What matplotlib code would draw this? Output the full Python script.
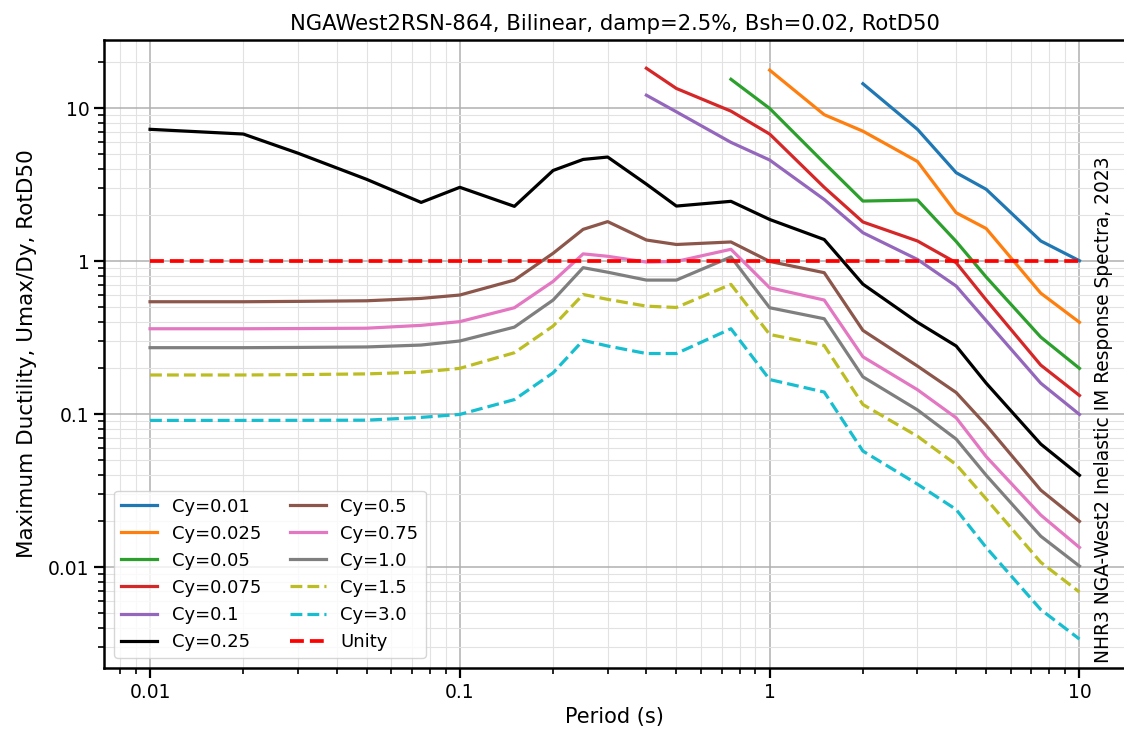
import matplotlib

matplotlib.use("Agg")
import matplotlib.pyplot as plt  # noqa: E402
import numpy as np  # noqa: E402

# Spectral periods (s)
periods = [0.01, 0.02, 0.03, 0.05, 0.075, 0.1, 0.15, 0.2, 0.25, 0.3, 0.4,
           0.5, 0.75, 1.0, 1.5, 2.0, 3.0, 4.0, 5.0, 7.5, 10.0]

# Maximum ductility per yield strength coefficient. The weakest systems
# only have values from the period where the solution became stable.
mu_001 = [14.5, 7.3, 3.8, 2.96, 1.36, 1.01]                        # T >= 2.0
mu_0025 = [17.8, 9.1, 7.1, 4.5, 2.08, 1.64, 0.62, 0.40]            # T >= 1.0
mu_005 = [15.5, 10.0, 4.4, 2.48, 2.52, 1.35, 0.79, 0.32, 0.20]     # T >= 0.75
mu_0075 = [18.3, 13.5, 9.6, 6.8, 3.05, 1.81, 1.36, 0.98, 0.56, 0.21, 0.133]  # T >= 0.4
mu_01 = [12.2, 9.5, 6.0, 4.6, 2.54, 1.54, 1.03, 0.69, 0.41, 0.16, 0.10]      # T >= 0.4
mu_025 = [7.3, 6.8, 5.1, 3.44, 2.43, 3.05, 2.29, 3.93, 4.64, 4.81, 3.2,
          2.30, 2.47, 1.88, 1.39, 0.71, 0.40, 0.28, 0.16, 0.064, 0.040]
mu_05 = [0.545, 0.545, 0.548, 0.553, 0.573, 0.603, 0.755, 1.13, 1.62, 1.82,
         1.38, 1.29, 1.34, 1.0, 0.844, 0.354, 0.207, 0.139, 0.085, 0.032, 0.020]
mu_075 = [0.363, 0.363, 0.364, 0.366, 0.382, 0.404, 0.498, 0.74, 1.12, 1.08,
          0.99, 1.0, 1.20, 0.673, 0.559, 0.238, 0.145, 0.095, 0.053, 0.022, 0.0135]
mu_10 = [0.273, 0.273, 0.274, 0.276, 0.284, 0.302, 0.372, 0.559, 0.91, 0.85,
         0.755, 0.755, 1.07, 0.498, 0.422, 0.176, 0.107, 0.069, 0.040, 0.016, 0.0102]
mu_15 = [0.181, 0.181, 0.182, 0.184, 0.189, 0.20, 0.253, 0.378, 0.608, 0.565,
         0.51, 0.50, 0.708, 0.333, 0.282, 0.116, 0.072, 0.047, 0.028, 0.0108, 0.0069]
mu_30 = [0.0914, 0.0914, 0.0915, 0.0917, 0.0956, 0.10, 0.125, 0.187, 0.305, 0.28,
         0.25, 0.25, 0.363, 0.169, 0.14, 0.0576, 0.035, 0.0239, 0.0135, 0.0053, 0.0034]

cy_labels = ["Cy=0.01", "Cy=0.025", "Cy=0.05", "Cy=0.075", "Cy=0.1", "Cy=0.25",
             "Cy=0.5", "Cy=0.75", "Cy=1.0", "Cy=1.5", "Cy=3.0"]
cy_values = [mu_001, mu_0025, mu_005, mu_0075, mu_01, mu_025,
             mu_05, mu_075, mu_10, mu_15, mu_30]
cy_colors = ["C0", "C1", "C2", "C3", "C4", "k", "C5", "C6", "C7", "C8", "C9"]
cy_styles = ["-"] * 9 + ["--", "--"]

plt.rcParams["font.family"] = "DejaVu Sans"

fig = plt.figure(figsize=(11.24, 7.42), dpi=100)
ax = fig.add_axes([0.0925, 0.0997, 0.909, 0.8464])

T = np.array(periods)
for lab, mu, col, ls in zip(cy_labels, cy_values, cy_colors, cy_styles):
    ax.plot(T[-len(mu):], mu, color=col, ls=ls, lw=2.3, label=lab)
ax.plot([T[0], T[-1]], [1, 1], "r--", lw=2.7, label="Unity")

ax.set_xscale("log")
ax.set_yscale("log")
ax.set_xlim(0.0071, 14.1)
ax.set_ylim(0.0022, 28)
ax.set_xticks([0.01, 0.1, 1, 10], ["0.01", "0.1", "1", "10"])
ax.set_yticks([0.01, 0.1, 1, 10], ["0.01", "0.1", "1", "10"])

ax.grid(True, which="major", color="#b0b0b0", lw=1.1)
ax.grid(True, which="minor", color="#e2e2e2", lw=0.8)
ax.tick_params(which="major", length=7, width=1.6, labelsize=13.5)
ax.tick_params(which="minor", length=4, width=1.2)
for s in ax.spines.values():
    s.set_linewidth(1.8)
# right edge of the frame falls at the canvas border
ax.spines["right"].set_visible(False)

ax.set_xlabel("Period (s)", fontsize=15)
ax.set_ylabel("Maximum Ductility, Umax/Dy, RotD50", fontsize=15.5, labelpad=8)
ax.set_title("NGAWest2RSN-864, Bilinear, damp=2.5%, Bsh=0.02, RotD50",
             fontsize=15.2, pad=7)
ax.text(0.988, 0.008, "NHR3 NGA-West2 Inelastic IM Response Spectra, 2023",
        transform=ax.transAxes, rotation=90, ha="right", va="bottom",
        fontsize=13.4)

ax.legend(ncol=2, loc="lower left", fontsize=13, handlelength=2.0,
          columnspacing=1.6, borderaxespad=0.55)

fig.savefig("out.png", dpi=100)
